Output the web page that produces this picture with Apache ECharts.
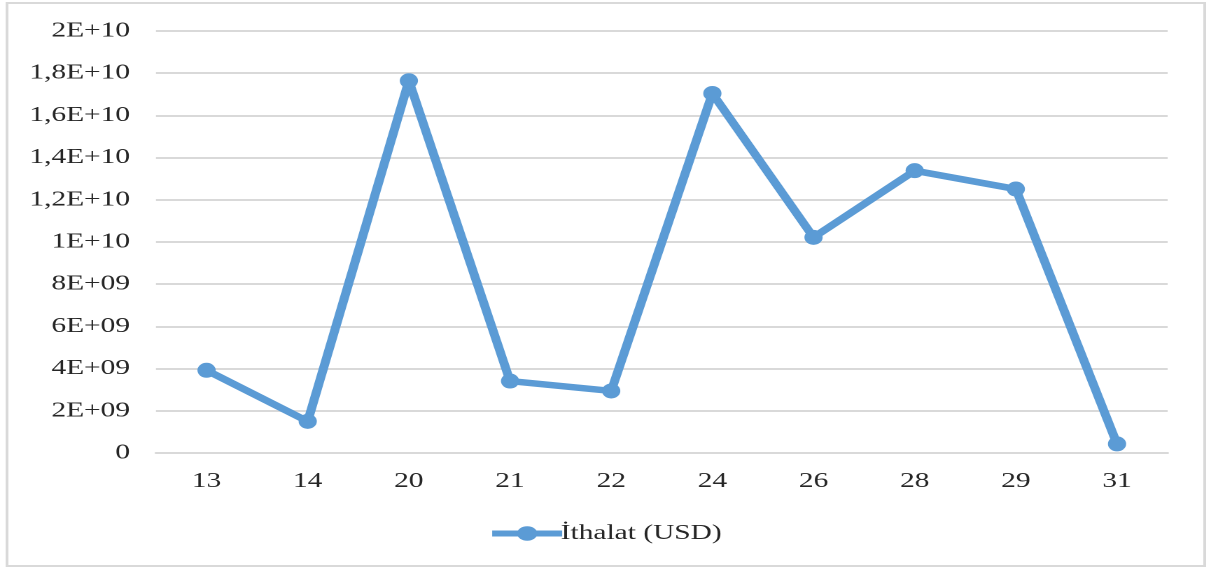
<!DOCTYPE html>
<html>
<head>
<meta charset="utf-8">
<script src="https://cdn.jsdelivr.net/npm/echarts@6/dist/echarts.min.js"></script>
<style>
html,body{margin:0;padding:0;background:#fff;overflow:hidden;}
#wrap{width:1210px;height:569px;overflow:hidden;}
#chart{width:864px;height:569px;transform:scaleX(1.4);transform-origin:0 0;}
</style>
</head>
<body>
<div id="wrap"><div id="chart"></div></div>
<script>
const categories = ['13','14','20','21','22','24','26','28','29','31'];
const seriesName = 'İthalat (USD)';
const importValues = [3.92e9, 1.50e9, 17.64e9, 3.41e9, 2.94e9, 17.04e9, 10.22e9, 13.38e9, 12.51e9, 0.43e9];
const yMin = 0, yMax = 2e10, yInterval = 2e9;

function sciLabel(v) {
  if (v === 0) return '0';
  const e = Math.floor(Math.log10(v) + 1e-9);
  const m = Math.round(v / Math.pow(10, e) * 10) / 10;
  const ms = String(m).replace('.', ',');
  const es = (e < 10 ? '0' : '') + e;
  return ms + 'E+' + es;
}

const chart = echarts.init(document.getElementById('chart'), null, {devicePixelRatio: 2});
const font = '"Liberation Serif", "Times New Roman", serif';
const textColor = '#262626';
chart.setOption({
  animation: false,
  backgroundColor: '#fff',
  graphic: [{
    type: 'rect',
    shape: {x: 5, y: 3, width: 855.5, height: 563},
    style: {fill: 'none', stroke: '#d9d9d9', lineWidth: 2},
    silent: true
  }],
  grid: {left: 111.4, right: 30, top: 31, bottom: 116, containLabel: false},
  xAxis: {
    type: 'category',
    data: categories,
    boundaryGap: true,
    axisLine: {show: true, lineStyle: {color: '#d9d9d9', width: 2}},
    axisTick: {show: false},
    axisLabel: {color: textColor, fontFamily: font, fontSize: 21, margin: 18}
  },
  yAxis: {
    type: 'value',
    min: yMin, max: yMax, interval: yInterval,
    axisLine: {show: false},
    axisTick: {show: false},
    splitLine: {lineStyle: {color: '#d9d9d9', width: 2}},
    axisLabel: {color: textColor, fontFamily: font, fontSize: 21, margin: 18.5, formatter: sciLabel}
  },
  legend: {
    data: [seriesName],
    bottom: 20,
    left: 'center',
    itemWidth: 50,
    itemHeight: 18,
    itemGap: 10,
    lineStyle: {width: 6},
    textStyle: {color: textColor, fontFamily: font, fontSize: 21, padding: [0,0,0,-6]}
  },
  series: [{
    name: seriesName,
    type: 'line',
    data: importValues,
    symbol: 'circle',
    symbolSize: [13, 15],
    lineStyle: {color: '#5b9bd5', width: 6.5},
    itemStyle: {color: '#5b9bd5'}
  }]
});
</script>
</body>
</html>
